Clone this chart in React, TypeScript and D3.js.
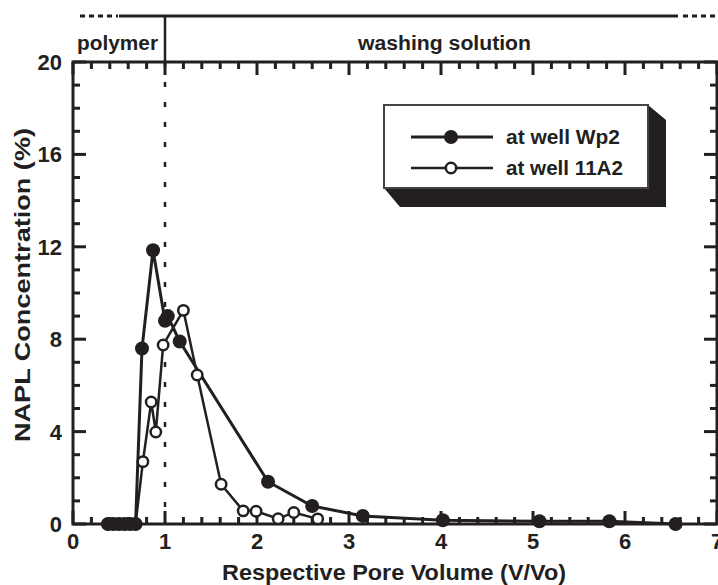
import { useEffect } from 'react'
import { scaleLinear, line, range } from 'd3'

// Respective pore volume (V/Vo) vs NAPL concentration (%)
const wp2X = [0.38, 0.44, 0.5, 0.56, 0.62, 0.68, 0.75, 0.87, 1.0, 1.03, 1.16, 2.12, 2.6, 3.15, 4.02, 5.07, 5.83, 6.55]
const wp2Y = [0, 0, 0, 0, 0, 0, 7.6, 11.85, 8.8, 9.0, 7.9, 1.83, 0.78, 0.35, 0.16, 0.12, 0.12, 0.0]

const a2X = [0.38, 0.44, 0.5, 0.56, 0.62, 0.68, 0.76, 0.85, 0.9, 0.98, 1.2, 1.35, 1.61, 1.85, 1.99, 2.23, 2.4, 2.66]
const a2Y = [0, 0, 0, 0, 0, 0, 2.7, 5.28, 3.98, 7.75, 9.25, 6.45, 1.72, 0.57, 0.55, 0.23, 0.5, 0.22]

const xTicks = [0, 1, 2, 3, 4, 5, 6, 7]
const yTicks = [0, 4, 8, 12, 16, 20]
const seriesNames = ['at well Wp2', 'at well 11A2']
const phaseLabels = ['polymer', 'washing solution']
const phaseBoundary = 1.0

const ink = '#231f20'
const font = '"Liberation Sans", Arial, sans-serif'

export default function App() {
  useEffect(() => {
    document.body.style.margin = '0'
  }, [])

  const width = 718
  const height = 585
  const left = 73
  const right = 717
  const top = 62
  const bottom = 524

  const x = scaleLinear().domain([0, 7]).range([left, right])
  const y = scaleLinear().domain([0, 20]).range([bottom, top])

  const toPts = (xs: number[], ys: number[]) => xs.map((v, i) => [v, ys[i]] as [number, number])
  const path = line<[number, number]>()
    .x((d) => x(d[0]))
    .y((d) => y(d[1]))

  const wp2 = toPts(wp2X, wp2Y)
  const a2 = toPts(a2X, a2Y)

  const xMinor = range(0, 7.001, 0.2).map((v) => +v.toFixed(1))
  const yMinor = range(0, 20.001, 1)

  const headerY = 16
  const bx = x(phaseBoundary)

  return (
    <svg width={width} height={height} style={{ display: 'block' }} fontFamily={font} fontWeight="bold" fill={ink}>
      <rect width={width} height={height} fill="#fff" />

      {/* phase header */}
      <line x1={80} x2={118} y1={headerY} y2={headerY} stroke={ink} strokeWidth={3} strokeDasharray="5 4" />
      <line x1={119} x2={678} y1={headerY} y2={headerY} stroke={ink} strokeWidth={3} />
      <line x1={683} x2={718} y1={headerY} y2={headerY} stroke={ink} strokeWidth={3} strokeDasharray="5 4" />
      <line x1={bx} x2={bx} y1={headerY} y2={top} stroke={ink} strokeWidth={2.5} />
      <line x1={bx} x2={bx} y1={top} y2={bottom} stroke={ink} strokeWidth={2.5} strokeDasharray="5 15" />
      <text x={77} y={50} fontSize={20} textLength={81} lengthAdjust="spacingAndGlyphs">{phaseLabels[0]}</text>
      <text x={358} y={50} fontSize={20} textLength={173} lengthAdjust="spacingAndGlyphs">{phaseLabels[1]}</text>

      {/* ticks */}
      {xMinor.map((v) => {
        const major = Math.abs(v - Math.round(v)) < 1e-6
        const len = major ? 13 : 7
        return (
          <g key={`xt-${v}`} stroke={ink} strokeWidth={3}>
            <line x1={x(v)} x2={x(v)} y1={bottom} y2={bottom - len} />
            <line x1={x(v)} x2={x(v)} y1={top} y2={top + len} />
          </g>
        )
      })}
      {yMinor.map((v) => {
        const len = v % 4 === 0 ? 13 : 7
        return (
          <g key={`yt-${v}`} stroke={ink} strokeWidth={3}>
            <line x1={left} x2={left + len} y1={y(v)} y2={y(v)} />
            <line x1={right} x2={right - len} y1={y(v)} y2={y(v)} />
          </g>
        )
      })}
      <rect x={left} y={top} width={right - left} height={bottom - top} fill="none" stroke={ink} strokeWidth={3} />

      {xTicks.map((t) => (
        <text key={`xl-${t}`} x={x(t)} y={bottom + 25} textAnchor="middle" fontSize={22}>{t}</text>
      ))}
      {yTicks.map((t) => (
        <text key={`yl-${t}`} x={left - 11} y={y(t) + 8} textAnchor="end" fontSize={22}>{t}</text>
      ))}

      <text x={394} y={580} textAnchor="middle" fontSize={22} textLength={344} lengthAdjust="spacingAndGlyphs">
        Respective Pore Volume (V/Vo)
      </text>
      <text
        transform={`translate(30,285) rotate(-90)`}
        textAnchor="middle"
        fontSize={22}
        textLength={314}
        lengthAdjust="spacingAndGlyphs"
      >
        NAPL Concentration (%)
      </text>

      {/* series */}
      <path d={path(a2) ?? ''} fill="none" stroke={ink} strokeWidth={2.5} />
      <path d={path(wp2) ?? ''} fill="none" stroke={ink} strokeWidth={3} />
      {a2.map((d, i) => (
        <circle key={`a-${i}`} cx={x(d[0])} cy={y(d[1])} r={5.2} fill="#fff" stroke={ink} strokeWidth={2.5} />
      ))}
      {wp2.map((d, i) => (
        <circle key={`w-${i}`} cx={x(d[0])} cy={y(d[1])} r={7} fill={ink} />
      ))}

      {/* legend */}
      <polygon points="648,105 666,120 666,207 400,207 384,188 648,188" fill={ink} />
      <rect x={384} y={105} width={264} height={83} fill="#fff" stroke="#444" strokeWidth={2} />
      <line x1={411} x2={493} y1={137} y2={137} stroke={ink} strokeWidth={3} />
      <circle cx={451} cy={137} r={7} fill={ink} />
      <text x={506} y={144} fontSize={20} textLength={114} lengthAdjust="spacingAndGlyphs">{seriesNames[0]}</text>
      <line x1={411} x2={493} y1={168} y2={168} stroke={ink} strokeWidth={2.5} />
      <circle cx={451} cy={168} r={5.2} fill="#fff" stroke={ink} strokeWidth={2.5} />
      <text x={506} y={175} fontSize={20} textLength={117} lengthAdjust="spacingAndGlyphs">{seriesNames[1]}</text>
    </svg>
  )
}
